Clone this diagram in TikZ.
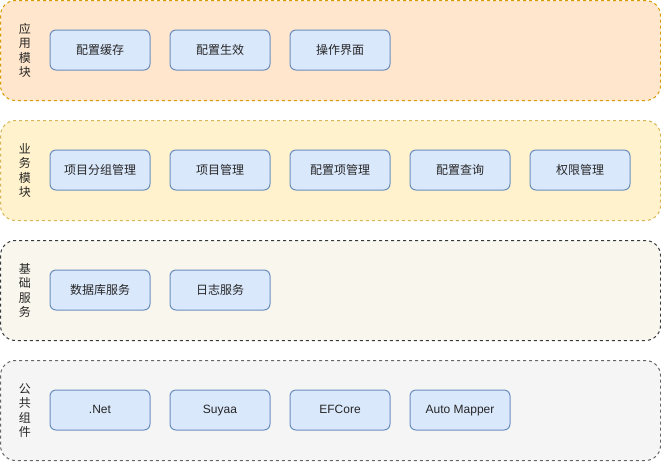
\documentclass[tikz,border=0pt]{standalone}
\usepackage{fontspec}
\setmainfont{Noto Sans CJK SC}
\newfontfamily\latinfont{Liberation Sans}
\begin{document}
\begin{tikzpicture}[x=1pt,y=-1pt,
  band/.style={draw, dash pattern=on 3pt off 3pt, rounded corners=15pt, line width=1pt},
  item/.style={draw=boxst, fill=boxfill, rounded corners=6pt, minimum width=100pt, minimum height=40pt, line width=1pt, font=\fontsize{12}{14}\selectfont, inner sep=0pt, text=black!85},
  litem/.style={item, font=\fontsize{12}{14}\selectfont\latinfont, text height=8.6pt, text depth=2.4pt},
  lab/.style={align=center, font=\fontsize{12}{14.5}\selectfont, text=black!85, inner sep=0pt}]
\definecolor{boxfill}{HTML}{DAE8FC}
\definecolor{boxst}{HTML}{6C8EBF}
\definecolor{f1}{HTML}{FFE6CC}\definecolor{s1}{HTML}{D79B00}
\definecolor{f2}{HTML}{FFF2CC}\definecolor{s2}{HTML}{D6B656}
\definecolor{f3}{HTML}{F9F7ED}\definecolor{s3}{HTML}{36393D}
\definecolor{f4}{HTML}{F5F5F5}\definecolor{s4}{HTML}{666666}
\useasboundingbox (0,0) rectangle (661,461);
\draw[band, fill=f1, draw=s1] (0.5,0.5) rectangle (660.5,100.5);
\draw[band, fill=f2, draw=s2] (0.5,120.5) rectangle (660.5,220.5);
\draw[band, fill=f3, draw=s3] (0.5,240.5) rectangle (660.5,340.5);
\draw[band, fill=f4, draw=s4] (0.5,360.5) rectangle (660.5,460.5);
\node[lab] (l1) at (25,50.5) {应\\用\\模\\块};
\node[lab] (l2) at (25,170.5) {业\\务\\模\\块};
\node[lab] (l3) at (25,290.5) {基\\础\\服\\务};
\node[lab] (l4) at (25,410.5) {公\\共\\组\\件};
\node[item] (a1) at (100,50) {配置缓存};
\node[item] (a2) at (220,50) {配置生效};
\node[item] (a3) at (340,50) {操作界面};
\node[item] (b1) at (100,170) {项目分组管理};
\node[item] (b2) at (220,170) {项目管理};
\node[item] (b3) at (340,170) {配置项管理};
\node[item] (b4) at (460,170) {配置查询};
\node[item] (b5) at (580,170) {权限管理};
\node[item] (c1) at (100,290) {数据库服务};
\node[item] (c2) at (220,290) {日志服务};
\node[litem] (d1) at (100,410) {.Net};
\node[litem] (d2) at (220,410) {Suyaa};
\node[litem] (d3) at (340,410) {EFCore};
\node[litem] (d4) at (460,410) {Auto Mapper};
\end{tikzpicture}
\end{document}
